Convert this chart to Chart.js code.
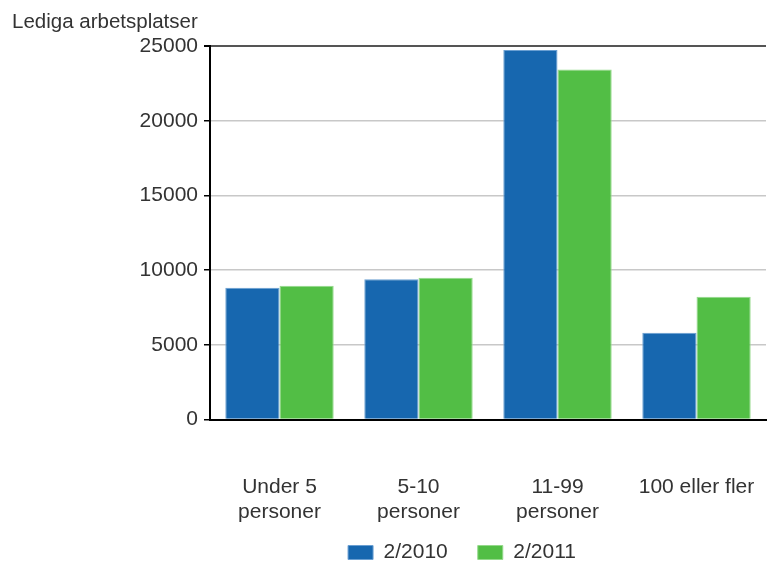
<!DOCTYPE html>
<html>
<head>
<meta charset="utf-8">
<script src="https://cdn.jsdelivr.net/npm/chart.js@4/dist/chart.umd.min.js"></script>
<style>
  html, body { margin: 0; padding: 0; background: #fff; }
  #wrap { width: 768px; height: 562px; }
</style>
</head>
<body>
<div id="wrap"><canvas id="chart" width="768" height="562"></canvas></div>
<script>
const chartTitle = 'Lediga arbetsplatser';
const categories = [['Under 5', 'personer'], ['5-10', 'personer'], ['11-99', 'personer'], ['100 eller fler']];
const seriesNames = ['2/2010', '2/2011'];
const values2010 = [8830, 9390, 24730, 5820];
const values2011 = [8960, 9500, 23430, 8220];
const yTicks = [0, 5000, 10000, 15000, 20000, 25000];

const FONT = '"Liberation Sans", Arial, sans-serif';
const TEXT = '#333333';

// title sits in the top-left corner, away from the plot
const cornerTitle = {
  id: 'cornerTitle',
  afterDraw(chart) {
    const ctx = chart.ctx;
    ctx.save();
    ctx.font = '20.5px ' + FONT;
    ctx.fillStyle = TEXT;
    ctx.textBaseline = 'middle';
    ctx.textAlign = 'left';
    ctx.fillText(chartTitle, 12, 22);
    ctx.restore();
  }
};

// the legend in the original is centred under the plot, not under the canvas
const moveLegend = {
  id: 'moveLegend',
  afterLayout(chart) {
    const lg = chart.legend;
    if (!lg) return;
    const dx = 79;
    const dy = -13;
    lg.left += dx; lg.right += dx;
    lg.top += dy; lg.bottom += dy;
  }
};

new Chart(document.getElementById('chart'), {
  type: 'bar',
  data: {
    labels: categories,
    datasets: [
      {
        label: seriesNames[0],
        data: values2010,
        backgroundColor: '#1767af',
        borderColor: '#6a9fd2',
        borderWidth: 1
      },
      {
        label: seriesNames[1],
        data: values2011,
        backgroundColor: '#52be45',
        borderColor: '#94d98a',
        borderWidth: 1
      }
    ]
  },
  options: {
    responsive: false,
    animation: false,
    layout: { padding: { left: 0, right: 2, top: 46, bottom: -24 } },
    datasets: { bar: { categoryPercentage: 0.78, barPercentage: 1 } },
    plugins: {
      title: { display: false },
      tooltip: { enabled: false },
      legend: {
        position: 'bottom',
        labels: {
          boxWidth: 25,
          boxHeight: 14,
          padding: 30,
          color: TEXT,
          font: { family: FONT, size: 21 }
        }
      }
    },
    scales: {
      x: {
        grid: {
          display: true,
          drawOnChartArea: false,
          drawTicks: true,
          tickLength: 55,
          tickColor: 'rgba(0,0,0,0)'
        },
        border: { display: true, color: '#000', width: 2 },
        ticks: {
          color: TEXT,
          padding: 0,
          maxRotation: 0,
          autoSkip: false,
          font: { family: FONT, size: 21, lineHeight: 1.2 }
        }
      },
      y: {
        min: 0,
        max: 25000,
        afterBuildTicks(scale) { scale.ticks = yTicks.map(v => ({ value: v })); },
        grid: {
          color: ctx => (ctx.tick && ctx.tick.value === 25000 ? '#555' : '#c8c8c8'),
          lineWidth: ctx => (ctx.tick && ctx.tick.value === 25000 ? 2 : 1.5),
          tickColor: '#000',
          tickLength: 6
        },
        border: { display: true, color: '#000', width: 2 },
        ticks: {
          color: TEXT,
          padding: 6,
          font: { family: FONT, size: 21 },
          callback: v => String(v)
        },
        afterFit(scale) { scale.width = 210; }
      }
    }
  },
  plugins: [cornerTitle, moveLegend]
});
</script>
</body>
</html>
